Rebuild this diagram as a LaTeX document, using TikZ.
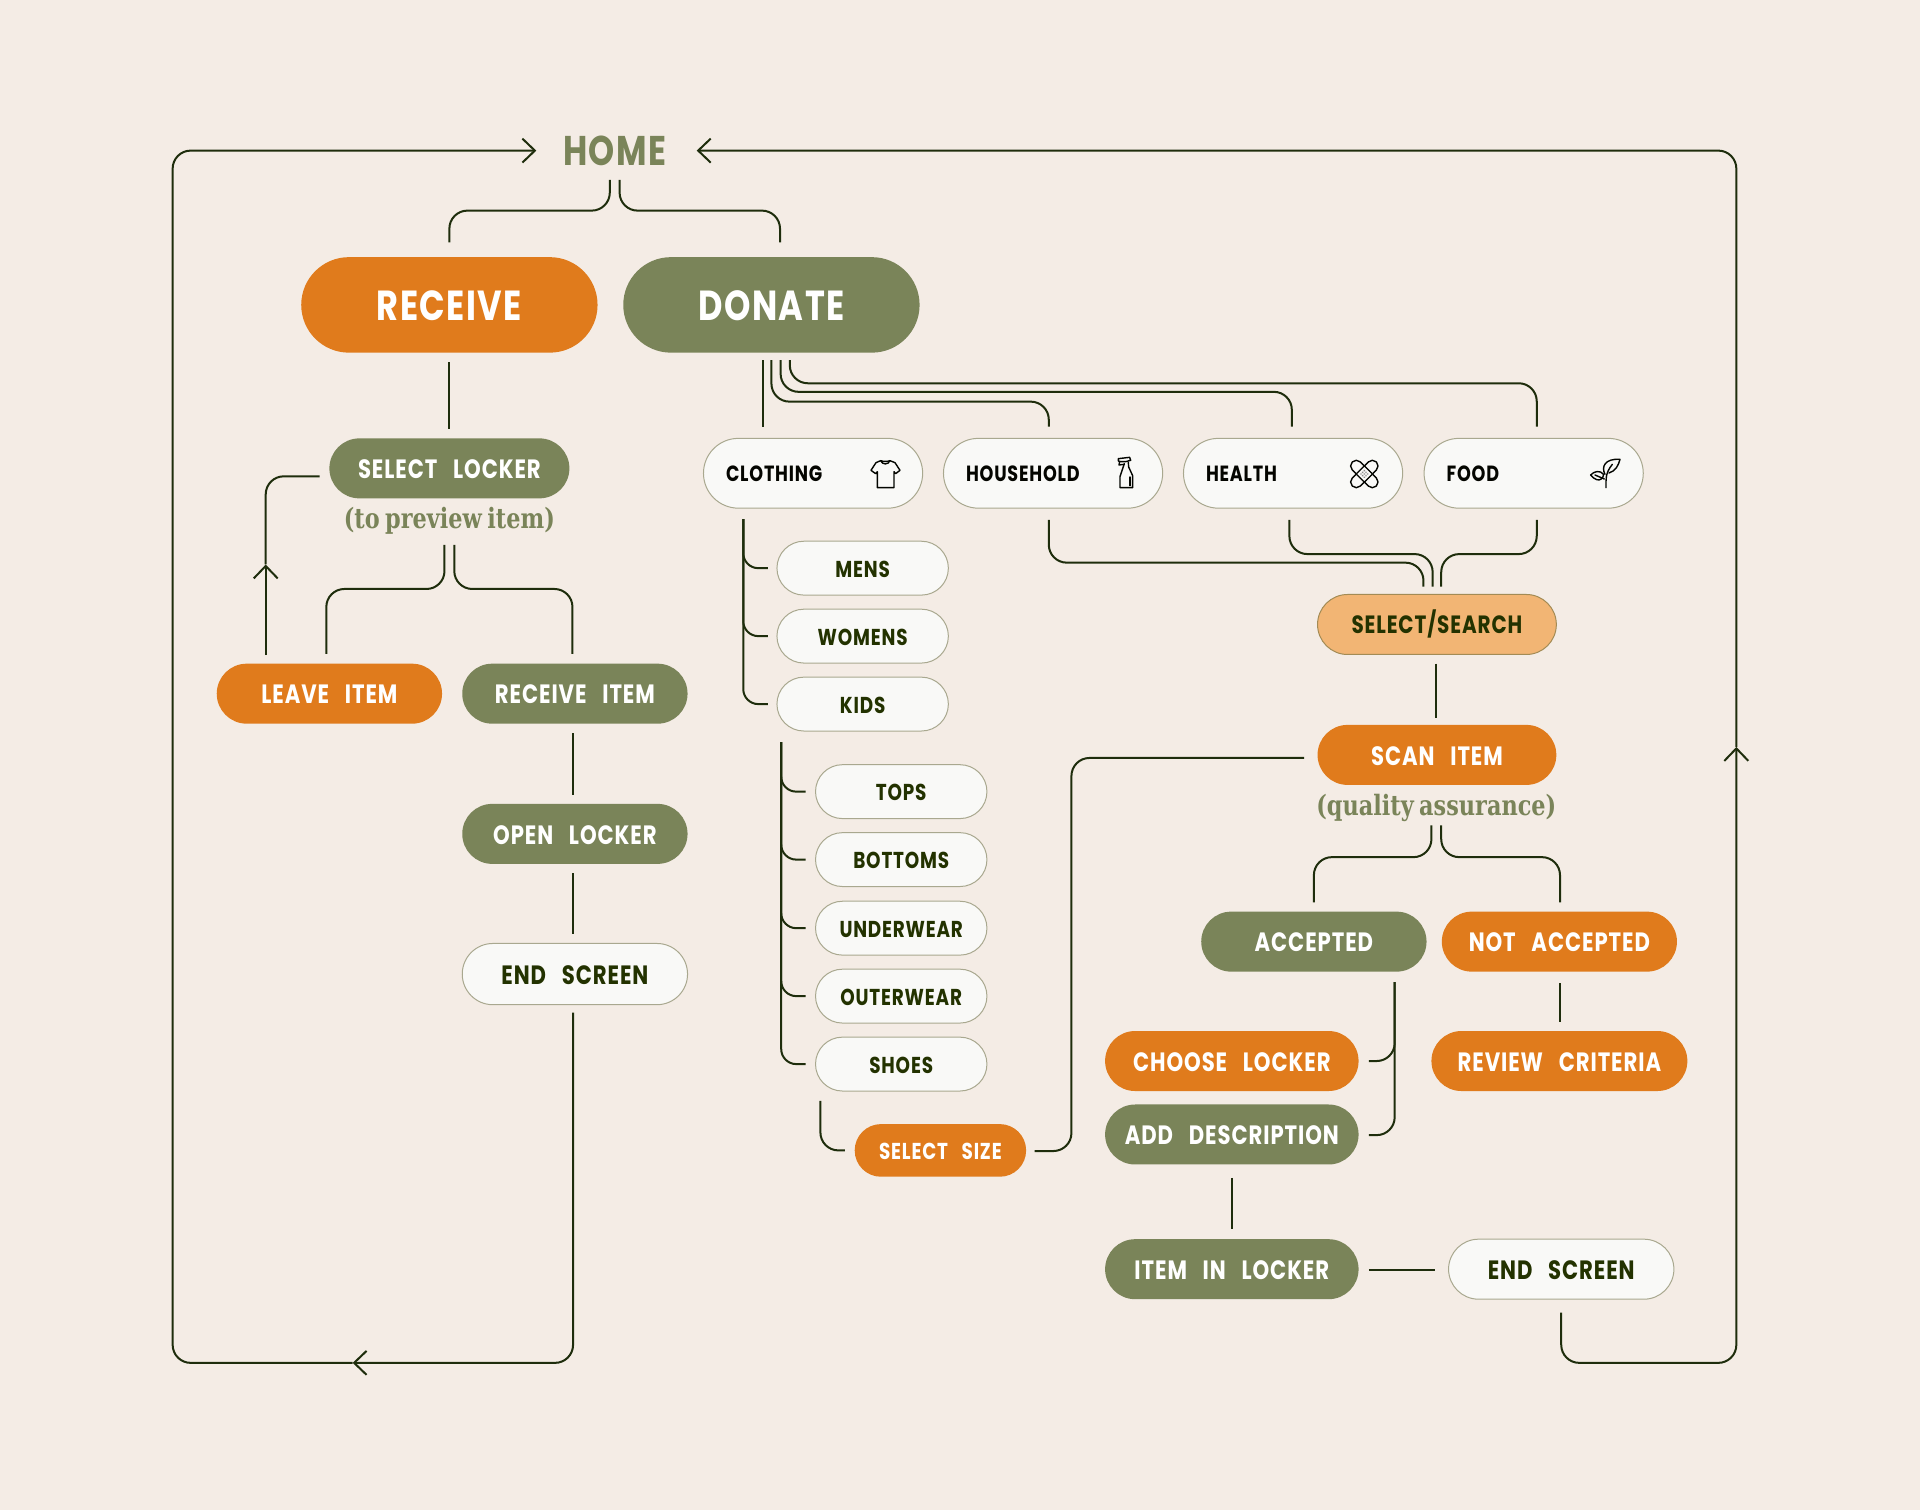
\documentclass[tikz,border=0pt]{standalone}
\usepackage{fontspec}
\usetikzlibrary{shapes.misc,arrows.meta}
\setmainfont{Poppins}[FakeStretch=0.80,LetterSpace=3.5,WordSpace=2.9]
\newfontfamily\noteserif{DejaVu Serif}[FakeStretch=0.80,WordSpace=0.7]
\definecolor{bgc}{HTML}{F4ECE5}
\definecolor{orangec}{HTML}{E07B1C}
\definecolor{greenc}{HTML}{7A8459}
\definecolor{whitec}{HTML}{F9F9F7}
\definecolor{edgec}{HTML}{A9A88F}
\definecolor{peachc}{HTML}{F2B574}
\definecolor{peachedge}{HTML}{A38B55}
\definecolor{linec}{HTML}{1E2D0C}
\definecolor{darktext}{HTML}{233200}
\newcommand\fsz[1]{\fontsize{#1}{#1}\selectfont\bfseries}
\newcommand\catlab[1]{\makebox[174pt][l]{#1}}
\tikzset{
  size/.style 2 args={minimum width=#1*1.2245pt,minimum height=#2*1.2245pt},
  pill/.style={rounded rectangle,inner sep=0pt,text depth=0pt},
  big/.style={pill,size={242}{78},text=white,font=\fsz{42},text height=31.5pt},
  org/.style={pill,fill=orangec,text=white,font=\fsz{26.5},text height=20.5pt},
  grn/.style={pill,fill=greenc,text=white,font=\fsz{26.5},text height=20.5pt},
  wht/.style={pill,fill=whitec,draw=edgec,line width=1pt,text=darktext,font=\fsz{26.5},text height=20.5pt},
  cat/.style={wht,size={179}{57},text=black!90!darktext,font=\fsz{22},text height=17pt},
  sub/.style={wht,size={140}{44},font=\fsz{23},text height=18pt},
  serifnote/.style={inner sep=0pt,text=greenc,font={\noteserif\fontsize{28}{28}\selectfont\bfseries}},
  conn/.style={draw=linec,line width=2pt,rounded corners=18pt},
  tree/.style={conn,rounded corners=15pt},
  barb/.style={-{Straight Barb[length=12.5pt,width=24pt,line width=2pt]}},
  icon/.style={draw=black!90!darktext,line width=1.4pt,line join=round,line cap=round},
}
\begin{document}
\begin{tikzpicture}[x=1.2245pt,y=-1.2245pt]
\useasboundingbox[fill=bgc] (0,0) rectangle (1568,1233.15);
% nodes
\node[inner sep=0pt,text=greenc,font=\fsz{41.5}] (home) at (502,123) {HOME};
\node[big,fill=orangec] (receive) at (367,249) {RECEIVE};
\node[big,fill=greenc] (donate) at (630,249) {DONATE};
\node[grn,size={196}{49}] (selectlocker) at (367,382.5) {SELECT LOCKER};
\node[serifnote] (note1) at (367,425.5) {(to preview item)};
\node[org,size={184}{49}] (leave) at (269,566.5) {LEAVE ITEM};
\node[grn,size={184}{49}] (receiveitem) at (469.5,566.5) {RECEIVE ITEM};
\node[grn,size={184}{49}] (openlocker) at (469.5,681) {OPEN LOCKER};
\node[wht,size={184}{50}] (endone) at (469.5,795.5) {END SCREEN};
\node[cat] (clothing) at (664,386.5) {\catlab{CLOTHING}};
\node[cat] (household) at (860,386.5) {\catlab{HOUSEHOLD}};
\node[cat] (health) at (1056,386.5) {\catlab{HEALTH}};
\node[cat] (food) at (1252.5,386.5) {\catlab{FOOD}};
\node[sub] (mens) at (704.5,464) {MENS};
\node[sub] (womens) at (704.5,519.5) {WOMENS};
\node[sub] (kids) at (704.5,575) {KIDS};
\node[sub] (tops) at (736,646.5) {TOPS};
\node[sub] (bottoms) at (736,702) {BOTTOMS};
\node[sub] (underwear) at (736,758) {UNDERWEAR};
\node[sub] (outerwear) at (736,813.5) {OUTERWEAR};
\node[sub] (shoes) at (736,869) {SHOES};
\node[org,size={140}{43},font=\fsz{23},text height=18pt] (selectsize) at (768,939.5) {SELECT SIZE};
\node[pill,size={195}{49},fill=peachc,draw=peachedge,line width=1pt,text=darktext,font=\fsz{25},text height=19pt] (selectsearch) at (1173.5,510) {SELECT/SEARCH};
\node[org,size={195}{49}] (scanitem) at (1173.5,616.5) {SCAN ITEM};
\node[serifnote] (note2) at (1173,659.5) {(quality assurance)};
\node[grn,size={184}{49}] (accepted) at (1073,769) {ACCEPTED};
\node[org,size={192}{49}] (notaccepted) at (1273.5,769) {NOT ACCEPTED};
\node[org,size={207}{49}] (chooselocker) at (1006,866.5) {CHOOSE LOCKER};
\node[org,size={209}{49}] (reviewcriteria) at (1273.5,866.5) {REVIEW CRITERIA};
\node[grn,size={207}{49}] (adddesc) at (1006,926.5) {ADD DESCRIPTION};
\node[grn,size={207}{49}] (iteminlocker) at (1006,1036.5) {ITEM IN LOCKER};
\node[wht,size={184}{49}] (endtwo) at (1275,1036.5) {END SCREEN};
\coordinate (arrowA) at (217,461);
\coordinate (arrowB) at (288,1113);
\coordinate (arrowC) at (1418,610);
% home brackets
\draw[conn] ([shift={(-4,24)}]home.center) -- ++(0,25) -| ([shift={(0,-51)}]receive.center);
\draw[conn] ([shift={(4,24)}]home.center) -- ++(0,25) -| ([shift={(7,-51)}]donate.center);
% receive branch
\draw[conn] ([shift={(0,47)}]receive.center) -- ([shift={(0,-32.5)}]selectlocker.center);
\draw[conn] ([shift={(-4,19.5)}]note1.center) -- ++(0,36) -| ([shift={(-2.5,-32.5)}]leave.center);
\draw[conn] ([shift={(4,19.5)}]note1.center) -- ++(0,36) -| ([shift={(-2,-32.5)}]receiveitem.center);
\draw[conn,barb] ([shift={(-52,-31.5)}]leave.center) -- (arrowA);
\draw[conn] (arrowA) |- ([shift={(-106,6.5)}]selectlocker.center);
\draw[conn] ([shift={(-1.5,32.5)}]receiveitem.center) -- ([shift={(-1.5,-32)}]openlocker.center);
\draw[conn] ([shift={(-1.5,32)}]openlocker.center) -- ([shift={(-1.5,-32.5)}]endone.center);
\draw[conn,barb] ([shift={(-1.5,31.5)}]endone.center) |- (arrowB);
\draw[conn,barb] (arrowB) -| ([shift={(-361,0)}]home.center) -- ([shift={(-64,0)}]home.center);
% donate branch
\draw[conn] ([shift={(-7,45)}]donate.center) -- ([shift={(-41,-38)}]clothing.center);
\draw[conn] ([shift={(0,45)}]donate.center) -- ++(0,34) -| ([shift={(-3.5,-38)}]household.center);
\draw[conn] ([shift={(7.5,45)}]donate.center) -- ++(0,26) -| ([shift={(-1,-38)}]health.center);
\draw[conn] ([shift={(15,45)}]donate.center) -- ++(0,19) -| ([shift={(2.5,-38)}]food.center);
% clothing trees
\draw[tree] ([shift={(-57,37.5)}]clothing.center) |- ([shift={(-77.5,0)}]mens.center);
\draw[tree] ([shift={(-57,37.5)}]clothing.center) |- ([shift={(-77.5,0)}]womens.center);
\draw[tree] ([shift={(-57,37.5)}]clothing.center) |- ([shift={(-77.5,0)}]kids.center);
\draw[tree] ([shift={(-66.5,31)}]kids.center) |- ([shift={(-78,0)}]tops.center);
\draw[tree] ([shift={(-66.5,31)}]kids.center) |- ([shift={(-78,0)}]bottoms.center);
\draw[tree] ([shift={(-66.5,31)}]kids.center) |- ([shift={(-78,0)}]underwear.center);
\draw[tree] ([shift={(-66.5,31)}]kids.center) |- ([shift={(-78,0)}]outerwear.center);
\draw[tree] ([shift={(-66.5,31)}]kids.center) |- ([shift={(-78,0)}]shoes.center);
\draw[conn] ([shift={(-66,30)}]shoes.center) |- ([shift={(-78,0)}]selectsize.center);
\draw[conn] ([shift={(77,0.5)}]selectsize.center) -- ++(30,0) |- ([shift={(-108.5,2.5)}]scanitem.center);
% to select/search
\draw[conn] ([shift={(-3.5,38)}]household.center) -- ++(0,35) -| ([shift={(-11,-31)}]selectsearch.center);
\draw[conn] ([shift={(-3,38)}]health.center) -- ++(0,28) -| ([shift={(-3.5,-31)}]selectsearch.center);
\draw[conn] ([shift={(2.5,38)}]food.center) -- ++(0,28) -| ([shift={(3.5,-31)}]selectsearch.center);
\draw[conn] ([shift={(-0.5,32)}]selectsearch.center) -- ([shift={(-0.5,-30.5)}]scanitem.center);
% scan results
\draw[conn] ([shift={(-4,14.5)}]note2.center) -- ++(0,26) -| ([shift={(0,-32)}]accepted.center);
\draw[conn] ([shift={(4,14.5)}]note2.center) -- ++(0,26) -| ([shift={(0.5,-32)}]notaccepted.center);
\draw[conn] ([shift={(0.5,34)}]notaccepted.center) -- ([shift={(0.5,-31.5)}]reviewcriteria.center);
\draw[conn] ([shift={(66,33)}]accepted.center) |- ([shift={(112,0)}]chooselocker.center);
\draw[conn] ([shift={(66,33)}]accepted.center) |- ([shift={(112,0.5)}]adddesc.center);
\draw[conn] ([shift={(0,35.5)}]adddesc.center) -- ([shift={(0,-32.5)}]iteminlocker.center);
\draw[conn] ([shift={(112,0.5)}]iteminlocker.center) -- ([shift={(-103,0.5)}]endtwo.center);
\draw[conn,barb] ([shift={(0,35.5)}]endtwo.center) -- ++(0,41) -| (arrowC);
\draw[conn,barb] (arrowC) |- ([shift={(67,0)}]home.center);
% icons (zoom-crop units: 3 per pixel)
\begin{scope}[shift={(860/1.2245,445/1.2245)},x=0.3333pt,y=-0.3333pt,icon]
\draw (62,47) -- (48,53) -- (33,76) -- (47,86) -- (52,80) -- (52,128) -- (102,128) -- (102,80) -- (107,86) -- (120,76) -- (105,53) -- (90,47) .. controls (85,60) and (67,60) .. (62,47);
\draw (62,47) .. controls (70,50) and (82,50) .. (90,47);
\end{scope}
\begin{scope}[shift={(1095/1.2245,445/1.2245)},x=0.3333pt,y=-0.3333pt,icon]
\draw (88,56) -- (75,95) -- (75,128) -- (113,128) -- (113,92) -- (101,66) -- (100,52);
\draw (70,41) -- (104,37) -- (107,46) -- (92,50) -- (78,50) -- (70,48) -- cycle;
\draw (74,50) -- (72,60) -- (88,58);
\draw (105,96) -- (105,122);
\end{scope}
\begin{scope}[shift={(1335/1.2245,445/1.2245)},x=0.3333pt,y=-0.3333pt,icon]
\draw[rotate around={45:(88,87)},rounded corners=5.6pt] (37,70) rectangle (139,104);
\draw[rotate around={-45:(88,87)},rounded corners=5.6pt] (37,70) rectangle (139,104);
\draw[fill=whitec,line width=1pt,rotate around={45:(88,87)}] (71,70) rectangle (105,104);
\foreach \dx/\dy in {-7/-7,0/-7,7/-7,-7/0,0/0,7/0,-7/7,0/7,7/7}
  \fill[black!45,draw=none,rotate around={45:(88,87)}] (88+\dx,87+\dy) circle (1pt);
\end{scope}
\begin{scope}[shift={(1575/1.2245,445/1.2245)},x=0.3333pt,y=-0.3333pt,icon]
\draw (93,128) .. controls (93,105) and (90,85) .. (112,58);
\draw (90,88) .. controls (78,65) and (90,40) .. (135,43) .. controls (130,62) and (122,78) .. (102,84);
\draw (47,90) .. controls (58,78) and (75,75) .. (86,88) .. controls (85,100) and (75,108) .. (65,104) .. controls (58,102) and (52,96) .. (47,90) -- cycle;
\draw (60,90) -- (88,102);
\end{scope}
\end{tikzpicture}
\end{document}
